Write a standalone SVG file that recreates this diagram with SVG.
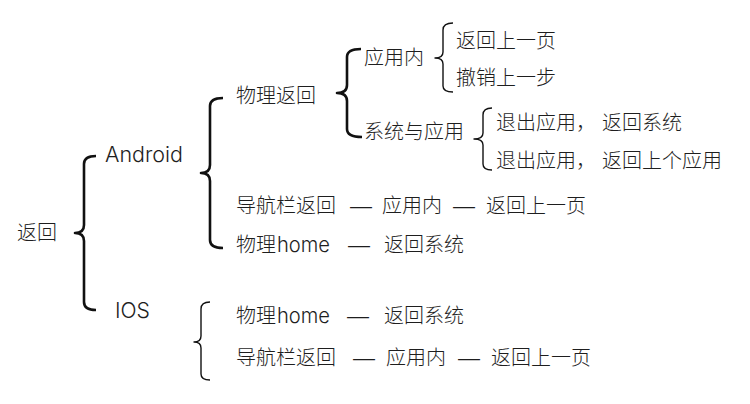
<svg xmlns="http://www.w3.org/2000/svg" width="750" height="404" viewBox="0 0 750 404">
<style>
.t{font-family:"Noto Sans CJK SC","Liberation Sans",sans-serif;font-size:20px;font-weight:300;fill:#1e1e1e}
.l{font-family:Inter,"Liberation Sans","Noto Sans CJK SC",sans-serif;font-size:21px;font-weight:300;fill:#1e1e1e}
.d{font-family:"Liberation Sans",sans-serif;font-size:21px;fill:#1e1e1e}
.bk{fill:none;stroke:#111;stroke-width:2.6;stroke-linejoin:round}
.bn{fill:none;stroke:#111;stroke-width:1.4;stroke-linejoin:round}
</style>
<rect width="750" height="404" fill="#fff"/>
<g id="connectors">
<path class="bk" d="M96,156 Q84,156 84,164 L84,225 Q84,233 75,233 Q84,233 84,241 L84,302 Q84,310 96,310"/>
<path class="bk" d="M223,98 Q210,98 210,106 L210,165 Q210,173 201,173 Q210,173 210,181 L210,240 Q210,248 223,248"/>
<path class="bk" d="M361,49 Q347,49 347,57 L347,85 Q347,93 337,93 Q347,93 347,101 L347,129 Q347,137 362,137"/>
<path class="bn" d="M453,23 Q443,23 443,30 L443,52 Q443,58 435,58 Q443,58 443,64 L443,86 Q443,92 453,92"/>
<path class="bn" d="M492,108 Q483,108 483,115 L483,133 Q483,139 474,139 Q483,139 483,145 L483,164 Q483,170 492,170"/>
<path class="bn" d="M210,302 Q201,302 201,309 L201,336 Q201,342 194,342 Q201,342 201,348 L201,374 Q201,380 210,380"/>
</g>
<g id="n-root"><text class="t" x="17" y="240">返回</text></g>
<g id="n-android"><text class="l" x="105" y="162" textLength="78" lengthAdjust="spacingAndGlyphs">Android</text></g>
<g id="n-ios"><text class="l" x="115" y="318" textLength="35" lengthAdjust="spacingAndGlyphs">IOS</text></g>
<g id="n-phys-back"><text class="t" x="236" y="102.5">物理返回</text></g>
<g id="n-in-app"><text class="t" x="364" y="65">应用内</text></g>
<g id="n-sys-app"><text class="t" x="364" y="139">系统与应用</text></g>
<g id="n-prev-page"><text class="t" x="456" y="47.5">返回上一页</text></g>
<g id="n-undo"><text class="t" x="456" y="85">撤销上一步</text></g>
<g id="n-exit-sys"><text class="t" y="130"><tspan x="496">退出应用，</tspan><tspan x="602">返回系统</tspan></text></g>
<g id="n-exit-app"><text class="t" y="167.5"><tspan x="496">退出应用，</tspan><tspan x="602">返回上个应用</tspan></text></g>
<g id="n-and-nav"><text class="t" y="212.5"><tspan x="236">导航栏返回</tspan><tspan class="d" x="350" textLength="22" lengthAdjust="spacingAndGlyphs">—</tspan><tspan x="382">应用内</tspan><tspan class="d" x="453" textLength="22" lengthAdjust="spacingAndGlyphs">—</tspan><tspan x="486">返回上一页</tspan></text></g>
<g id="n-and-home"><text y="251.5"><tspan class="t" x="236">物理</tspan><tspan class="l" x="277" textLength="53" lengthAdjust="spacingAndGlyphs">home</tspan><tspan class="d" x="348" textLength="22" lengthAdjust="spacingAndGlyphs">—</tspan><tspan class="t" x="384">返回系统</tspan></text></g>
<g id="n-ios-home"><text y="322.5"><tspan class="t" x="236">物理</tspan><tspan class="l" x="277" textLength="53" lengthAdjust="spacingAndGlyphs">home</tspan><tspan class="d" x="347" textLength="22" lengthAdjust="spacingAndGlyphs">—</tspan><tspan class="t" x="384">返回系统</tspan></text></g>
<g id="n-ios-nav"><text class="t" y="364.5"><tspan x="236">导航栏返回</tspan><tspan class="d" x="353" textLength="22" lengthAdjust="spacingAndGlyphs">—</tspan><tspan x="386">应用内</tspan><tspan class="d" x="458" textLength="22" lengthAdjust="spacingAndGlyphs">—</tspan><tspan x="491">返回上一页</tspan></text></g>
</svg>
